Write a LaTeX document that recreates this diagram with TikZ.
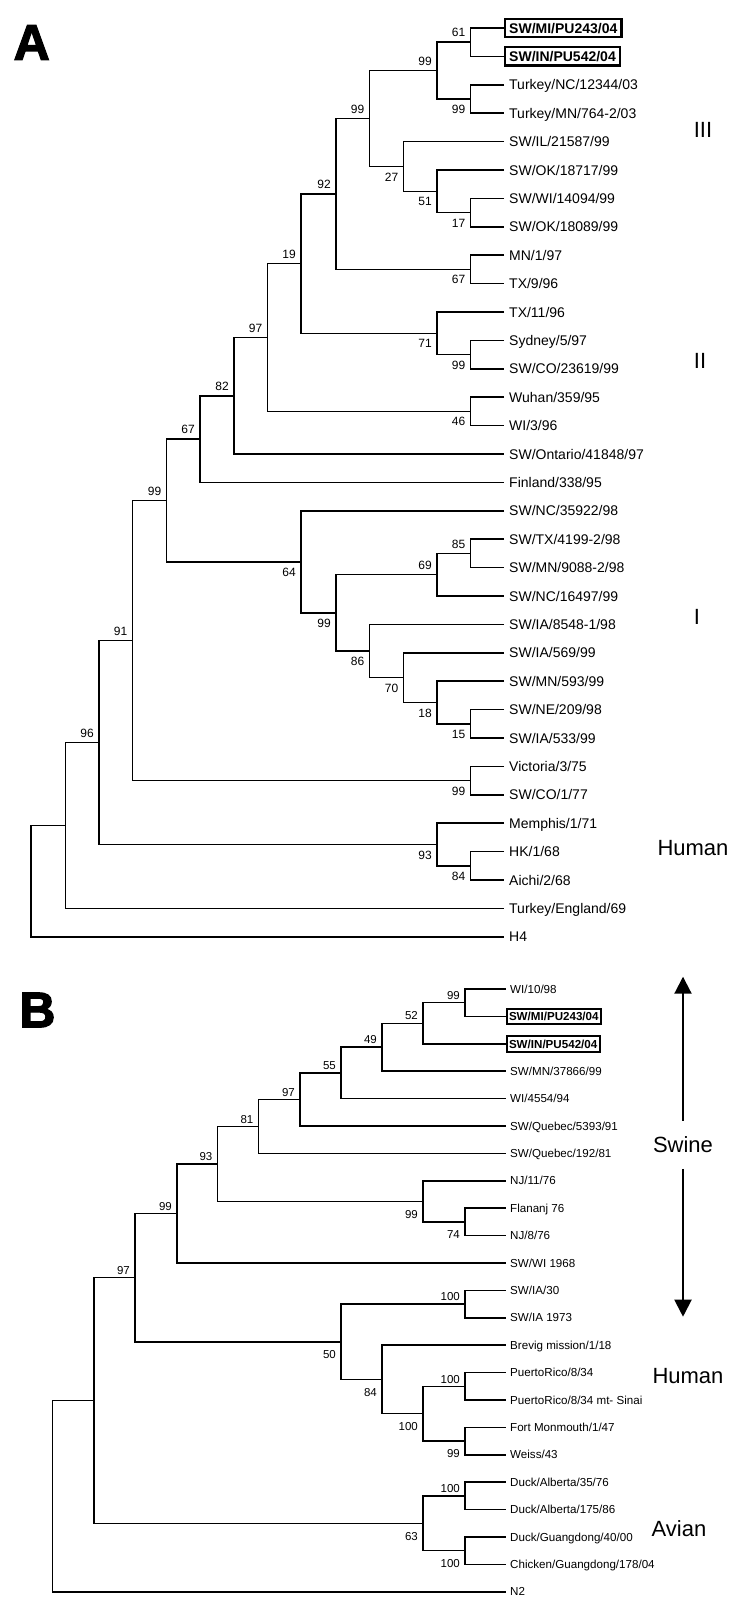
\documentclass[tikz,border=0pt]{standalone}
\usepackage{fontspec}
\setmainfont{Liberation Sans}
\newfontfamily\panelfont{Liberation Sans}[BoldFeatures={FakeBold=2.5}]
\usetikzlibrary{arrows.meta, positioning}

\begin{document}
\begin{tikzpicture}[x=1pt, y=-1pt,
    br/.style={line width=1.5pt},
    leafa/.style={anchor=west, inner xsep=5pt, inner ysep=0pt, text height=10pt, text depth=0pt, font=\fontsize{14}{16}\selectfont},
    boxa/.style={anchor=west, draw, line width=2.4pt, inner xsep=4pt, inner ysep=4pt, text height=10.5pt, text depth=0pt, font=\fontsize{14}{16}\selectfont\bfseries},
    leafb/.style={anchor=west, inner xsep=4.5pt, inner ysep=0pt, text height=8.3pt, text depth=0pt, font=\fontsize{11.6}{13}\selectfont},
    boxb/.style={anchor=west, draw, line width=2pt, inner xsep=2.5pt, inner ysep=3.5pt, text height=8.6pt, text depth=0pt, font=\fontsize{11.6}{13}\selectfont\bfseries},
    bsa/.style={inner sep=0pt, font=\fontsize{12}{12}\selectfont},
    bsb/.style={inner sep=0pt, font=\fontsize{11.5}{12}\selectfont},
    upa/.style={anchor=south east, xshift=-5pt, yshift=5pt},
    dna/.style={anchor=north east, xshift=-5pt, yshift=-6pt},
    upb/.style={anchor=south east, xshift=-5pt, yshift=3pt},
    dnb/.style={anchor=north east, xshift=-5pt, yshift=-8.5pt},
    clade/.style={inner sep=0pt, font=\fontsize{22}{24}\selectfont},
    panel/.style={inner sep=0pt, font=\panelfont\bfseries\fontsize{50}{50}\selectfont},
    swarrow/.style={line width=2pt, -{Triangle[width=17pt,length=17pt]}}
]
\path[use as bounding box, fill=white] (0,0) rectangle (750,1614);

\node[panel] (pA) at (31.7, 42.5) {A};
\node[panel] (pB) at (37.4, 1010) {B};

\node[boxa] (A1) at (504, 28) {SW/MI/PU243/04};
\node[boxa] (A2) at (504, 56.4) {SW/IN/PU542/04};
\node[leafa] (A3) at (504, 84.8) {Turkey/NC/12344/03};
\node[leafa] (A4) at (504, 113.2) {Turkey/MN/764-2/03};
\node[leafa] (A5) at (504, 141.6) {SW/IL/21587/99};
\node[leafa] (A6) at (504, 170) {SW/OK/18717/99};
\node[leafa] (A7) at (504, 198.4) {SW/WI/14094/99};
\node[leafa] (A8) at (504, 226.8) {SW/OK/18089/99};
\node[leafa] (A9) at (504, 255.2) {MN/1/97};
\node[leafa] (A10) at (504, 283.6) {TX/9/96};
\node[leafa] (A11) at (504, 312) {TX/11/96};
\node[leafa] (A12) at (504, 340.4) {Sydney/5/97};
\node[leafa] (A13) at (504, 368.8) {SW/CO/23619/99};
\node[leafa] (A14) at (504, 397.2) {Wuhan/359/95};
\node[leafa] (A15) at (504, 425.6) {WI/3/96};
\node[leafa] (A16) at (504, 454) {SW/Ontario/41848/97};
\node[leafa] (A17) at (504, 482.4) {Finland/338/95};
\node[leafa] (A18) at (504, 510.8) {SW/NC/35922/98};
\node[leafa] (A19) at (504, 539.2) {SW/TX/4199-2/98};
\node[leafa] (A20) at (504, 567.6) {SW/MN/9088-2/98};
\node[leafa] (A21) at (504, 596) {SW/NC/16497/99};
\node[leafa] (A22) at (504, 624.4) {SW/IA/8548-1/98};
\node[leafa] (A23) at (504, 652.8) {SW/IA/569/99};
\node[leafa] (A24) at (504, 681.2) {SW/MN/593/99};
\node[leafa] (A25) at (504, 709.6) {SW/NE/209/98};
\node[leafa] (A26) at (504, 738) {SW/IA/533/99};
\node[leafa] (A27) at (504, 766.4) {Victoria/3/75};
\node[leafa] (A28) at (504, 794.8) {SW/CO/1/77};
\node[leafa] (A29) at (504, 823.2) {Memphis/1/71};
\node[leafa] (A30) at (504, 851.6) {HK/1/68};
\node[leafa] (A31) at (504, 880) {Aichi/2/68};
\node[leafa] (A32) at (504, 908.4) {Turkey/England/69};
\node[leafa] (A33) at (504, 936.8) {H4};

\coordinate (a61) at (470.5, 42.2);
\coordinate (a99t) at (470.5, 99);
\coordinate (a99b) at (437, 70.6);
\coordinate (a17) at (470.5, 212.6);
\coordinate (a51) at (437, 191.3);
\coordinate (a27) at (403.5, 166.45);
\coordinate (a99c) at (369.5, 118.5);
\coordinate (a67) at (470.5, 269.4);
\coordinate (a92) at (336, 193.95);
\coordinate (a99d) at (470.5, 354.6);
\coordinate (a71) at (437, 333.3);
\coordinate (a19) at (301, 263.6);
\coordinate (a46) at (470.5, 411.4);
\coordinate (a97) at (267.5, 337.5);
\coordinate (a82) at (234, 395.75);
\coordinate (a67b) at (200, 439.1);
\coordinate (a85) at (470.5, 553.4);
\coordinate (a69) at (437, 574.7);
\coordinate (a15) at (470.5, 723.8);
\coordinate (a18) at (437, 702.5);
\coordinate (a70) at (403.5, 677.65);
\coordinate (a86) at (369.5, 651.0);
\coordinate (a99e) at (336, 612.85);
\coordinate (a64) at (301, 561.8);
\coordinate (a99f) at (166.5, 500.45);
\coordinate (a99g) at (470.5, 780.6);
\coordinate (a91) at (132.5, 640.5);
\coordinate (a84) at (470.5, 865.8);
\coordinate (a93) at (437, 844.5);
\coordinate (a96) at (99, 742.5);
\coordinate (aN) at (65.5, 825.45);
\coordinate (aroot) at (31, 881.1);

\draw[br] (A1.west) -| (a61) |- (A2.west);
\draw[br] (A3.west) -| (a99t) |- (A4.west);
\draw[br] (a61) -| (a99b) |- (a99t);
\draw[br] (A7.west) -| (a17) |- (A8.west);
\draw[br] (A6.west) -| (a51) |- (a17);
\draw[br] (A5.west) -| (a27) |- (a51);
\draw[br] (a99b) -| (a99c) |- (a27);
\draw[br] (A9.west) -| (a67) |- (A10.west);
\draw[br] (a99c) -| (a92) |- (a67);
\draw[br] (A12.west) -| (a99d) |- (A13.west);
\draw[br] (A11.west) -| (a71) |- (a99d);
\draw[br] (a92) -| (a19) |- (a71);
\draw[br] (A14.west) -| (a46) |- (A15.west);
\draw[br] (a19) -| (a97) |- (a46);
\draw[br] (a97) -| (a82) |- (A16.west);
\draw[br] (a82) -| (a67b) |- (A17.west);
\draw[br] (A19.west) -| (a85) |- (A20.west);
\draw[br] (a85) -| (a69) |- (A21.west);
\draw[br] (A25.west) -| (a15) |- (A26.west);
\draw[br] (A24.west) -| (a18) |- (a15);
\draw[br] (A23.west) -| (a70) |- (a18);
\draw[br] (A22.west) -| (a86) |- (a70);
\draw[br] (a69) -| (a99e) |- (a86);
\draw[br] (A18.west) -| (a64) |- (a99e);
\draw[br] (a67b) -| (a99f) |- (a64);
\draw[br] (A27.west) -| (a99g) |- (A28.west);
\draw[br] (a99f) -| (a91) |- (a99g);
\draw[br] (A30.west) -| (a84) |- (A31.west);
\draw[br] (A29.west) -| (a93) |- (a84);
\draw[br] (a91) -| (a96) |- (a93);
\draw[br] (a96) -| (aN) |- (A32.west);
\draw[br] (aN) -| (aroot) |- (A33.west);

\node[bsa, upa] (ta61) at (a61) {61};
\node[bsa, dna] (ta99t) at (a99t) {99};
\node[bsa, upa] (ta99b) at (a99b) {99};
\node[bsa, dna] (ta27) at (a27) {27};
\node[bsa, dna] (ta51) at (a51) {51};
\node[bsa, dna] (ta17) at (a17) {17};
\node[bsa, upa] (ta99c) at (a99c) {99};
\node[bsa, dna] (ta67) at (a67) {67};
\node[bsa, upa] (ta92) at (a92) {92};
\node[bsa, dna] (ta99d) at (a99d) {99};
\node[bsa, dna] (ta71) at (a71) {71};
\node[bsa, upa] (ta19) at (a19) {19};
\node[bsa, dna] (ta46) at (a46) {46};
\node[bsa, upa] (ta97) at (a97) {97};
\node[bsa, upa] (ta82) at (a82) {82};
\node[bsa, upa] (ta67b) at (a67b) {67};
\node[bsa, upa] (ta85) at (a85) {85};
\node[bsa, upa] (ta69) at (a69) {69};
\node[bsa, dna] (ta15) at (a15) {15};
\node[bsa, dna] (ta18) at (a18) {18};
\node[bsa, dna] (ta70) at (a70) {70};
\node[bsa, dna] (ta86) at (a86) {86};
\node[bsa, dna] (ta99e) at (a99e) {99};
\node[bsa, dna] (ta64) at (a64) {64};
\node[bsa, upa] (ta99f) at (a99f) {99};
\node[bsa, dna] (ta99g) at (a99g) {99};
\node[bsa, upa] (ta91) at (a91) {91};
\node[bsa, dna] (ta84) at (a84) {84};
\node[bsa, dna] (ta93) at (a93) {93};
\node[bsa, upa] (ta96) at (a96) {96};

\node[clade] (cIII) at (703, 130) {III};
\node[clade] (cII) at (700, 361) {II};
\node[clade] (cI) at (697, 617) {I};
\node[clade] (humA) at (693, 848) {Human};

\node[leafb] (B1) at (505.5, 989) {WI/10/98};
\node[boxb] (B2) at (505.5, 1016.4) {SW/MI/PU243/04};
\node[boxb] (B3) at (505.5, 1043.8) {SW/IN/PU542/04};
\node[leafb] (B4) at (505.5, 1071.2) {SW/MN/37866/99};
\node[leafb] (B5) at (505.5, 1098.6) {WI/4554/94};
\node[leafb] (B6) at (505.5, 1126) {SW/Quebec/5393/91};
\node[leafb] (B7) at (505.5, 1153.4) {SW/Quebec/192/81};
\node[leafb] (B8) at (505.5, 1180.8) {NJ/11/76};
\node[leafb] (B9) at (505.5, 1208.2) {Flananj 76};
\node[leafb] (B10) at (505.5, 1235.6) {NJ/8/76};
\node[leafb] (B11) at (505.5, 1263) {SW/WI 1968};
\node[leafb] (B12) at (505.5, 1290.4) {SW/IA/30};
\node[leafb] (B13) at (505.5, 1317.8) {SW/IA 1973};
\node[leafb] (B14) at (505.5, 1345.2) {Brevig mission/1/18};
\node[leafb] (B15) at (505.5, 1372.6) {PuertoRico/8/34};
\node[leafb] (B16) at (505.5, 1400) {PuertoRico/8/34 mt- Sinai};
\node[leafb] (B17) at (505.5, 1427.4) {Fort Monmouth/1/47};
\node[leafb] (B18) at (505.5, 1454.8) {Weiss/43};
\node[leafb] (B19) at (505.5, 1482.2) {Duck/Alberta/35/76};
\node[leafb] (B20) at (505.5, 1509.6) {Duck/Alberta/175/86};
\node[leafb] (B21) at (505.5, 1537) {Duck/Guangdong/40/00};
\node[leafb] (B22) at (505.5, 1564.4) {Chicken/Guangdong/178/04};
\node[leafb] (B23) at (505.5, 1591.8) {N2};

\coordinate (b99a) at (465, 1002.7);
\coordinate (b52) at (423, 1023.25);
\coordinate (b49) at (382, 1047.2);
\coordinate (b55) at (341, 1072.9);
\coordinate (b97a) at (300, 1099.45);
\coordinate (b81) at (258.5, 1126.4);
\coordinate (b74) at (465, 1221.9);
\coordinate (b99b) at (423, 1201.35);
\coordinate (b93) at (217.5, 1163.9);
\coordinate (b99c) at (177, 1213.45);
\coordinate (b100a) at (465, 1304.1);
\coordinate (b100b) at (465, 1386.3);
\coordinate (b99d) at (465, 1441.1);
\coordinate (b100c) at (423, 1413.7);
\coordinate (b84) at (382, 1379.45);
\coordinate (b50) at (341, 1341.8);
\coordinate (b97b) at (135, 1277.6);
\coordinate (b100d) at (465, 1495.9);
\coordinate (b100e) at (465, 1550.7);
\coordinate (b63) at (423, 1523.3);
\coordinate (bN) at (94, 1400.45);
\coordinate (broot) at (52.5, 1496.1);

\draw[br] (B1.west) -| (b99a) |- (B2.west);
\draw[br] (b99a) -| (b52) |- (B3.west);
\draw[br] (b52) -| (b49) |- (B4.west);
\draw[br] (b49) -| (b55) |- (B5.west);
\draw[br] (b55) -| (b97a) |- (B6.west);
\draw[br] (b97a) -| (b81) |- (B7.west);
\draw[br] (B9.west) -| (b74) |- (B10.west);
\draw[br] (B8.west) -| (b99b) |- (b74);
\draw[br] (b81) -| (b93) |- (b99b);
\draw[br] (b93) -| (b99c) |- (B11.west);
\draw[br] (B12.west) -| (b100a) |- (B13.west);
\draw[br] (B15.west) -| (b100b) |- (B16.west);
\draw[br] (B17.west) -| (b99d) |- (B18.west);
\draw[br] (b100b) -| (b100c) |- (b99d);
\draw[br] (B14.west) -| (b84) |- (b100c);
\draw[br] (b100a) -| (b50) |- (b84);
\draw[br] (b99c) -| (b97b) |- (b50);
\draw[br] (B19.west) -| (b100d) |- (B20.west);
\draw[br] (B21.west) -| (b100e) |- (B22.west);
\draw[br] (b100d) -| (b63) |- (b100e);
\draw[br] (b97b) -| (bN) |- (b63);
\draw[br] (bN) -| (broot) |- (B23.west);

\node[bsb, upb] (tb99a) at (b99a) {99};
\node[bsb, upb] (tb52) at (b52) {52};
\node[bsb, upb] (tb49) at (b49) {49};
\node[bsb, upb] (tb55) at (b55) {55};
\node[bsb, upb] (tb97a) at (b97a) {97};
\node[bsb, upb] (tb81) at (b81) {81};
\node[bsb, upb] (tb93) at (b93) {93};
\node[bsb, dnb] (tb99b) at (b99b) {99};
\node[bsb, dnb] (tb74) at (b74) {74};
\node[bsb, upb] (tb99c) at (b99c) {99};
\node[bsb, upb] (tb97b) at (b97b) {97};
\node[bsb, upb] (tb100a) at (b100a) {100};
\node[bsb, dnb] (tb50) at (b50) {50};
\node[bsb, dnb] (tb84) at (b84) {84};
\node[bsb, upb] (tb100b) at (b100b) {100};
\node[bsb, dnb] (tb100c) at (b100c) {100};
\node[bsb, dnb] (tb99d) at (b99d) {99};
\node[bsb, upb] (tb100d) at (b100d) {100};
\node[bsb, dnb] (tb100e) at (b100e) {100};
\node[bsb, dnb] (tb63) at (b63) {63};

\node[clade, inner ysep=16pt, text height=15.8pt, text depth=0pt] (swine) at (683, 1144.7) {Swine};
\node[clade] (humB) at (688, 1376) {Human};
\node[clade] (avian) at (679, 1529) {Avian};
\coordinate (swtop) at (683, 976.7);
\coordinate (swbot) at (683, 1316.7);
\draw[swarrow] (swine.north) -- (swtop);
\draw[swarrow] (swine.south) -- (swbot);
\end{tikzpicture}
\end{document}
